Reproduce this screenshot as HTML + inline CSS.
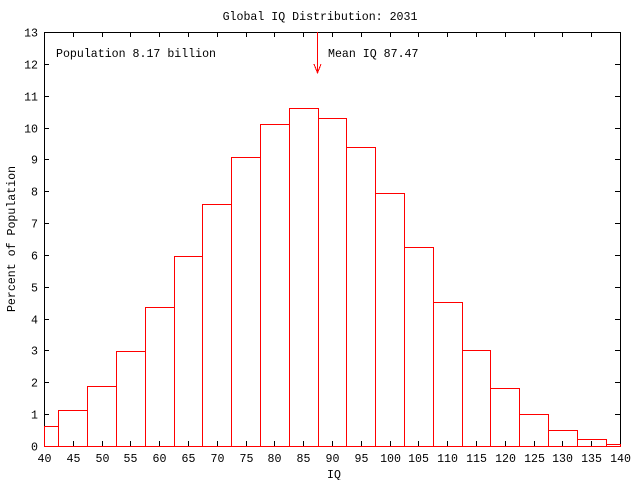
<!DOCTYPE html>
<html><head><meta charset="utf-8"><style>
html,body{margin:0;padding:0;background:#fff}
text{font-family:"Liberation Mono",monospace;font-size:11.6px;fill:#000}
</style></head><body>
<svg id="s" width="640" height="480" xmlns="http://www.w3.org/2000/svg" shape-rendering="crispEdges">
<rect width="640" height="480" fill="#fff"/>
<g id="g"></g>
<text x="320" y="20" text-anchor="middle">Global IQ Distribution: 2031</text>
<text x="56" y="57">Population 8.17 billion</text>
<text x="328" y="57">Mean IQ 87.47</text>
<text x="334" y="478" text-anchor="middle">IQ</text>
<text transform="translate(15,239) rotate(-90)" text-anchor="middle">Percent of Population</text>
</svg>
<script>
var g=document.getElementById('g'),h='';
var X=function(v){return Math.round(44+(v-40)*5.76)+.5},Y=function(v){return Math.round(446-v*414/13)+.5};
var d=[0.62,1.13,1.88,2.98,4.37,5.97,7.6,9.08,10.12,10.6,10.3,9.4,7.95,6.25,4.52,3.02,1.82,1.0,0.5,0.22,0.07];
var t='';
for(var v=0;v<=13;v++){var y=Y(v);t+='<line x1="44" x2="49" y1="'+y+'" y2="'+y+'" stroke="#000"/><line x1="615" x2="620" y1="'+y+'" y2="'+y+'" stroke="#000"/><text x="38" y="'+(y+4)+'" text-anchor="end">'+v+'</text>';}
for(var v=40;v<=140;v+=5){var x=X(v);t+='<line x1="'+x+'" x2="'+x+'" y1="441" y2="446" stroke="#000"/><line x1="'+x+'" x2="'+x+'" y1="32" y2="37" stroke="#000"/><text x="'+x+'" y="462" text-anchor="middle">'+v+'</text>';}
h+=t;
h+='<rect x="44.5" y="32.5" width="576" height="414" fill="none" stroke="#000"/>';
for(var i=0;i<d.length;i++){var c=40+5*i,a=Math.max(40,c-2.5),b=Math.min(140,c+2.5);
h+='<rect x="'+X(a)+'" y="'+Y(d[i])+'" width="'+(X(b)-X(a))+'" height="'+(446.5-Y(d[i]))+'" fill="none" stroke="#f00"/>';}
h+='<line x1="317.5" y1="32" x2="317.5" y2="73" stroke="#f00"/><path d="M314 64 L317.5 73 L321 64" fill="none" stroke="#f00"/>';
g.innerHTML=h;
</script>
</body></html>
